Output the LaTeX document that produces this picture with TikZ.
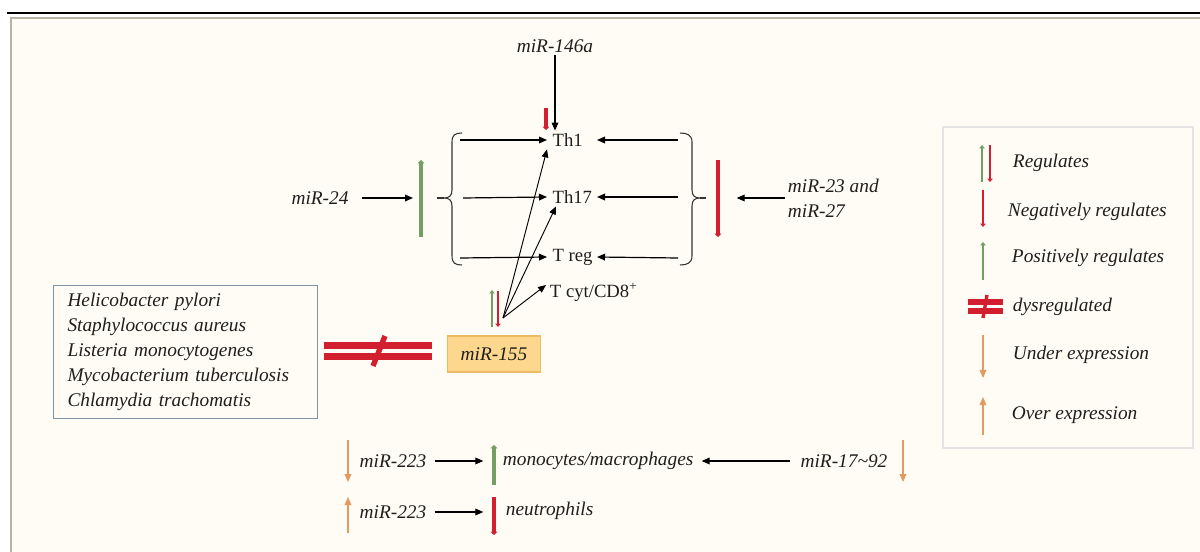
\documentclass[tikz,border=0pt]{standalone}
\usepackage{fontspec}
\setmainfont{Liberation Serif}
\usetikzlibrary{arrows.meta,calc}
\definecolor{gr}{HTML}{739F62}
\definecolor{rd}{HTML}{D11F2F}
\definecolor{org}{HTML}{E29A5F}
\definecolor{cream}{HTML}{FFFCF5}
\definecolor{framec}{HTML}{B8B2A2}
\definecolor{boxb}{HTML}{7E92A6}
\definecolor{gold}{HTML}{FDD78E}
\definecolor{goldb}{HTML}{EDBB63}
\definecolor{legb}{HTML}{E4E4E4}
\definecolor{ink}{HTML}{1E1E1E}
\begin{document}
\begin{tikzpicture}[x=0.75pt,y=-0.75pt,
  it/.style={font=\fontsize{14.5}{18.75}\selectfont\itshape, inner sep=2pt, text=ink},
  rm/.style={font=\fontsize{14}{17}\selectfont, inner sep=2pt, text=ink},
  tcell/.style={rm, anchor=west, inner xsep=4pt, inner ysep=2pt},
  arr/.style={draw=black, line width=0.9pt, -{Triangle[length=6pt,width=5pt]}},
  fan/.style={draw=black, line width=0.7pt, -{Triangle[length=6pt,width=5pt]}},
  gbar/.style={draw=gr, line width=3.5pt, -{Triangle[length=2.5pt,width=5pt]}},
  rbar/.style={draw=rd, line width=3.5pt, -{Triangle[length=2.5pt,width=5pt]}},
  gthin/.style={draw=gr, line width=2.2pt, -{Triangle[length=2.5pt,width=4pt]}},
  rthin/.style={draw=rd, line width=2.2pt, -{Triangle[length=2.5pt,width=4pt]}},
  obar/.style={draw=org, line width=1pt, -{Triangle[length=6pt,width=5pt]}},
  brace/.style={draw=black!80, line width=0.8pt},
  dysreg/.pic={
    \fill[rd] (-54,-9) rectangle (54,-2);
    \fill[rd] (-54,2) rectangle (54,9);
    \draw[rd, line width=4pt] (7,-15) -- (-5,15);
  }]
\useasboundingbox (0,0) rectangle (1200,552);
\fill[white] (0,0) rectangle (1200,552);
\filldraw[fill=cream, draw=framec, line width=1.2pt] (11,18) rectangle (1215,570);
\draw[black, line width=1.5pt] (7,13) -- (1200,13);

% T cell nodes
\node[tcell] (th1) at (547,140) {Th1};
\node[tcell] (th17) at (547,197) {Th17};
\node[tcell] (treg) at (547,257) {T reg};
\node[rm, anchor=west] (tcyt) at (547,292) {T cyt/CD8\textsuperscript{+}};

% miR-146a
\node[it] (m146) at (555,46) {miR-146a};
\draw[arr] (m146.south) -- (m146.south |- th1.north);
\draw[rbar] (546,108) -- (546,130);

% braces
\draw[brace] (462,133) .. controls (455,133) and (452,135) .. (452,142) -- (452,190)
  .. controls (452,196) and (449,198) .. (444,198) .. controls (449,198) and (452,200) .. (452,206)
  -- (452,256) .. controls (452,263) and (455,265) .. (462,265);
\draw[brace] (437,198) -- (444,198);
\draw[brace] (680,133) .. controls (687,133) and (692,135) .. (692,142) -- (692,190)
  .. controls (692,196) and (695,198) .. (700,198) .. controls (695,198) and (692,200) .. (692,206)
  -- (692,256) .. controls (692,263) and (687,265) .. (680,265);
\draw[brace] (700,198) -- (706,198);

\coordinate (lb1) at (460,140);
\coordinate (lb2) at (463,198);
\coordinate (lb3) at (460,258);
\coordinate (rb1) at (678,140);
\coordinate (rb2) at (678,197);
\coordinate (rb3) at (678,258);
\draw[arr] (lb1) -- (th1.west);
\draw[arr] (lb2) -- (th17.west);
\draw[arr] (lb3) -- (treg.west);
\draw[arr] (rb1) -- ($(th1.west)+(50,0)$);
\draw[arr] (rb2) -- ($(th17.west)+(50,0)$);
\draw[arr] (rb3) -- ($(treg.west)+(50,0)$);

% miR-24 side
\node[it] (m24) at (320,198) {miR-24};
\coordinate (gL) at (421,198);
\draw[gbar] (421,237) -- (421,160);
\draw[arr, shorten <=8pt, shorten >=6pt] (m24.east) -- (gL);

% miR-23/27 side
\node[it, anchor=west, align=left] (m2327) at (785,198) {miR-23 and\\miR-27};
\coordinate (rR) at (718,198);
\draw[rbar] (718,160) -- (718,237);
\draw[arr, shorten >=14pt] (m2327.west) -- (rR);

% miR-155 fan
\coordinate (fanO) at (503,318);
\draw[fan] (fanO) -- (th1.south west);
\draw[fan] (fanO) -- ($(th17.south west)+(9,0)$);
\draw[fan] (fanO) -- ($(tcyt.west)+(-1,-7)$);
\draw[gthin] (492,327) -- (492,290);
\draw[rthin] (498,291) -- (498,327);

\node[it, draw=goldb, fill=gold, line width=0.8pt, minimum width=70pt, minimum height=27pt] (m155) at (494,354) {miR-155};

% bacteria box
\node[it, draw=boxb, line width=0.9pt, text width=177pt, inner xsep=10.5pt, inner ysep=6pt, align=left, minimum height=100pt] (bact) at (185.5,352)
  {Helicobacter pylori\\Staphylococcus aureus\\Listeria monocytogenes\\Mycobacterium tuberculosis\\Chlamydia trachomatis};

\pic at (378,351) {dysreg};

% legend
\draw[legb, line width=0.8pt] (943,127) rectangle (1193,448);
\draw[gthin] (982,182) -- (982,145);
\draw[rthin] (990,145) -- (990,182);
\node[it, anchor=west] (lreg) at (1010,163) {Regulates};
\draw[rthin] (983,190) -- (983,227);
\node[it, anchor=west] (lneg) at (1005,212) {Negatively regulates};
\draw[gthin] (983,280) -- (983,242);
\node[it, anchor=west] (lpos) at (1009,258) {Positively regulates};
\fill[rd] (968,299) rectangle (1003,305);
\fill[rd] (968,308) rectangle (1003,314);
\draw[rd, line width=2.5pt] (987,295) -- (983,318);
\node[it, anchor=west] (ldys) at (1010,307) {dysregulated};
\draw[obar] (983,335) -- (983,378);
\node[it, anchor=west] (lund) at (1010,355) {Under expression};
\draw[obar] (983,435) -- (983,397);
\node[it, anchor=west] (lover) at (1009,415) {Over expression};

% bottom rows
\draw[obar] (348,440) -- (348,482);
\node[it] (m223a) at (393,461) {miR-223};
\coordinate (gb1) at (494,461);
\draw[arr, shorten <=4pt, shorten >=8pt] (m223a.east) -- (gb1);
\draw[gbar] (494,485) -- (494,445);
\node[it, anchor=west] (mono) at (500,461) {monocytes/macrophages};
\node[it] (m1792) at (844,461) {miR-17\textasciitilde92};
\draw[arr, shorten <=6pt, shorten >=4pt] (m1792.west) -- (mono.east);
\draw[obar] (903,440) -- (903,482);

\draw[obar] (348,533) -- (348,497);
\node[it] (m223b) at (393,512) {miR-223};
\coordinate (rb) at (494,512);
\draw[arr, shorten <=4pt, shorten >=8pt] (m223b.east) -- (rb);
\draw[rbar] (494,497) -- (494,535);
\node[it, anchor=west] (neut) at (503,511) {neutrophils};
\end{tikzpicture}
\end{document}
